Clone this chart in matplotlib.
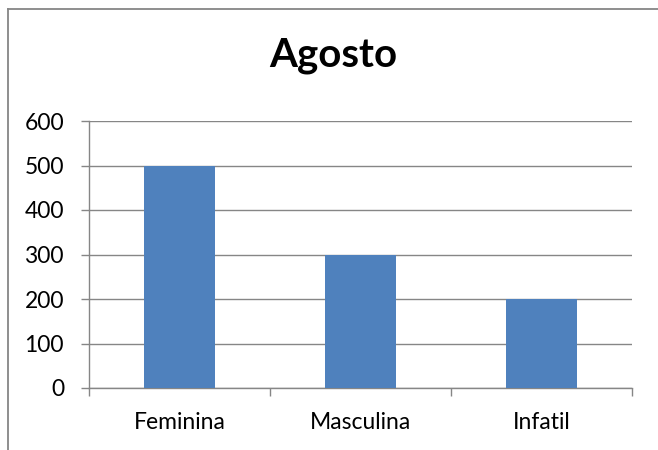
import matplotlib.pyplot as plt
from matplotlib.lines import Line2D

# data
categories = ['Feminina', 'Masculina', 'Infatil']
values = [500, 300, 200]
y_ticks = [0, 100, 200, 300, 400, 500, 600]

plt.rcParams['font.family'] = ['Lato', 'DejaVu Sans']

fig = plt.figure(figsize=(6.58, 4.5), dpi=100)
ax = fig.add_axes([89 / 658, 1 - 388 / 450, (632 - 89) / 658, (388 - 121) / 450])

x = range(len(categories))
ax.bar(x, values, width=0.39, color='#4F81BD', zorder=3)

ax.set_xlim(-0.5, len(categories) - 0.5)
ax.set_ylim(0, 600)
ax.set_yticks(y_ticks)
ax.yaxis.grid(True, color='#868686', linewidth=1, zorder=0)

# category labels centred, tick marks on boundaries
ax.set_xticks(list(x))
ax.set_xticklabels(categories, fontsize=16.5)
ax.tick_params(axis='x', length=0, pad=17)
ax.set_xticks([i - 0.5 for i in range(len(categories) + 1)], minor=True)
ax.tick_params(axis='x', which='minor', length=6, color='#868686', width=1, direction='out')
ax.tick_params(axis='y', labelsize=16.5, length=6, color='#868686', width=1, pad=12)

for side in ['top', 'right']:
    ax.spines[side].set_visible(False)
for side in ['left', 'bottom']:
    ax.spines[side].set_color('#868686')
    ax.spines[side].set_linewidth(1)

fig.text(333 / 658, 1 - 67 / 450, 'Agosto', fontsize=29, fontweight='bold',
         ha='center', va='baseline')

# chart border (left and top edges visible)
fig.add_artist(Line2D([7.5 / 658, 7.5 / 658], [0, 1 - 9 / 450], color='#868686', lw=1.3,
                      transform=fig.transFigure))
fig.add_artist(Line2D([7.5 / 658, 1], [1 - 9 / 450, 1 - 9 / 450], color='#868686', lw=1.3,
                      transform=fig.transFigure))

fig.savefig('out.png', dpi=100)
